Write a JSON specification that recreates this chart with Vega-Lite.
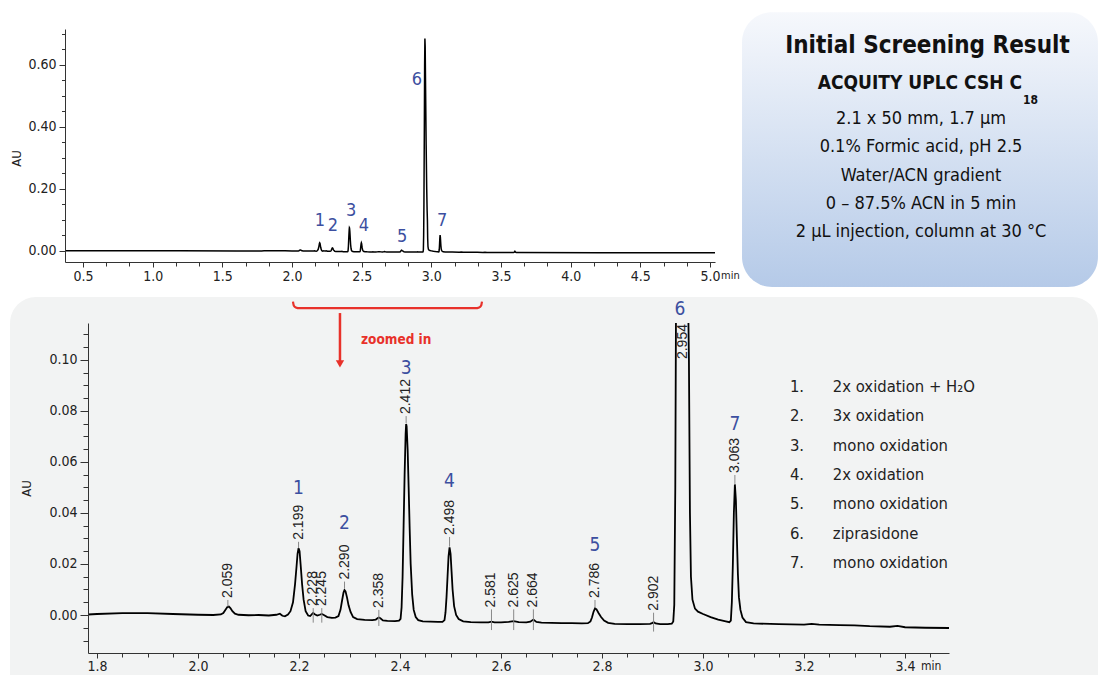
{
  "$schema": "https://vega.github.io/schema/vega-lite/v6.json",
  "background": "white",
  "padding": {"left": 10, "top": 12, "right": 0, "bottom": 0},
  "bounds": "flush",
  "spacing": 61,
  "config": {
    "view": {"stroke": null},
    "axis": {"grid": false, "domainColor": "#333", "tickColor": "#333", "labelColor": "#222", "labelFont": "DejaVu Sans Condensed, DejaVu Sans, sans-serif", "labelFontSize": 14, "titleFont": "DejaVu Sans Condensed, DejaVu Sans, sans-serif", "titleFontWeight": "normal", "titleFontSize": 13, "titleColor": "#222", "zindex": 1}
  },
  "datasets": {
    "trace": [
      {"t":0.371,"au":0.0004},{"t":0.8,"au":0.0004},{"t":1.2,"au":0.0004},{"t":1.6,"au":0.0003},
      {"t":1.782,"au":0.0002},{"t":1.8,"au":0.0004},{"t":1.85,"au":0.0007},{"t":1.9,"au":0.0007},{"t":1.95,"au":0.0004},{"t":2.0,"au":0.0001},{"t":2.03,"au":0.0},{"t":2.045,"au":0.0002},{"t":2.05,"au":0.0008},{"t":2.054,"au":0.002},{"t":2.058,"au":0.0031},{"t":2.061,"au":0.0033},{"t":2.064,"au":0.0027},{"t":2.068,"au":0.0015},{"t":2.073,"au":0.0005},{"t":2.08,"au":0.0001},{"t":2.1,"au":-0.0001},{"t":2.12,"au":0.0},{"t":2.14,"au":-0.0002},{"t":2.155,"au":0.0001},{"t":2.162,"au":0.0005},{"t":2.167,"au":-0.0003},{"t":2.172,"au":-0.0005},{"t":2.178,"au":0.0002},{"t":2.183,"au":0.0015},{"t":2.188,"au":0.005},{"t":2.192,"au":0.012},{"t":2.195,"au":0.019},{"t":2.197,"au":0.024},{"t":2.199,"au":0.0262},{"t":2.201,"au":0.025},{"t":2.203,"au":0.02},{"t":2.206,"au":0.012},{"t":2.209,"au":0.006},{"t":2.213,"au":0.0015},{"t":2.218,"au":-0.0002},{"t":2.222,"au":-0.0004},{"t":2.226,"au":0.0004},{"t":2.228,"au":0.0008},{"t":2.231,"au":0.0003},{"t":2.236,"au":-0.0002},{"t":2.241,"au":0.0001},{"t":2.245,"au":0.0004},{"t":2.249,"au":0.0},{"t":2.256,"au":-0.0008},{"t":2.265,"au":-0.0011},{"t":2.272,"au":-0.001},{"t":2.278,"au":-0.0004},{"t":2.282,"au":0.002},{"t":2.285,"au":0.0055},{"t":2.288,"au":0.0088},{"t":2.29,"au":0.0098},{"t":2.292,"au":0.0093},{"t":2.295,"au":0.0068},{"t":2.298,"au":0.0038},{"t":2.302,"au":0.0012},{"t":2.307,"au":-0.0008},{"t":2.315,"au":-0.0016},{"t":2.33,"au":-0.0019},{"t":2.345,"au":-0.002},{"t":2.352,"au":-0.0018},{"t":2.356,"au":-0.0012},{"t":2.358,"au":-0.001},{"t":2.361,"au":-0.0013},{"t":2.366,"au":-0.0021},{"t":2.375,"au":-0.0023},{"t":2.39,"au":-0.0024},{"t":2.398,"au":-0.0022},{"t":2.401,"au":-0.0015},{"t":2.403,"au":0.003},{"t":2.405,"au":0.015},{"t":2.407,"au":0.035},{"t":2.409,"au":0.055},{"t":2.411,"au":0.071},{"t":2.412,"au":0.0749},{"t":2.413,"au":0.074},{"t":2.415,"au":0.065},{"t":2.417,"au":0.05},{"t":2.419,"au":0.034},{"t":2.421,"au":0.02},{"t":2.424,"au":0.008},{"t":2.427,"au":0.002},{"t":2.431,"au":-0.0008},{"t":2.436,"au":-0.002},{"t":2.445,"au":-0.0025},{"t":2.46,"au":-0.0026},{"t":2.475,"au":-0.0027},{"t":2.484,"au":-0.0027},{"t":2.488,"au":-0.002},{"t":2.49,"au":0.001},{"t":2.492,"au":0.007},{"t":2.494,"au":0.015},{"t":2.496,"au":0.023},{"t":2.498,"au":0.0265},{"t":2.5,"au":0.024},{"t":2.502,"au":0.017},{"t":2.504,"au":0.01},{"t":2.507,"au":0.0035},{"t":2.511,"au":0.0},{"t":2.516,"au":-0.0016},{"t":2.525,"au":-0.0025},{"t":2.54,"au":-0.0028},{"t":2.56,"au":-0.0029},{"t":2.575,"au":-0.0029},{"t":2.581,"au":-0.0026},{"t":2.587,"au":-0.0029},{"t":2.6,"au":-0.0029},{"t":2.615,"au":-0.0027},{"t":2.625,"au":-0.0024},{"t":2.635,"au":-0.0028},{"t":2.65,"au":-0.0029},{"t":2.658,"au":-0.0026},{"t":2.664,"au":-0.0018},{"t":2.67,"au":-0.0027},{"t":2.68,"au":-0.003},{"t":2.7,"au":-0.0031},{"t":2.72,"au":-0.0032},{"t":2.74,"au":-0.0032},{"t":2.76,"au":-0.0033},{"t":2.772,"au":-0.0032},{"t":2.777,"au":-0.0025},{"t":2.78,"au":-0.001},{"t":2.783,"au":0.0012},{"t":2.786,"au":0.0026},{"t":2.789,"au":0.0022},{"t":2.793,"au":0.0008},{"t":2.798,"au":-0.0008},{"t":2.804,"au":-0.0022},{"t":2.812,"au":-0.0031},{"t":2.825,"au":-0.0035},{"t":2.85,"au":-0.0036},{"t":2.875,"au":-0.0036},{"t":2.895,"au":-0.0035},{"t":2.899,"au":-0.0032},{"t":2.902,"au":-0.0028},{"t":2.906,"au":-0.0033},{"t":2.915,"au":-0.0036},{"t":2.93,"au":-0.0036},{"t":2.938,"au":-0.0034},{"t":2.941,"au":-0.0025},{"t":2.943,"au":0.004},{"t":2.945,"au":0.05},{"t":2.947,"au":0.15},{"t":2.95,"au":0.4},{"t":2.952,"au":0.6},{"t":2.954,"au":0.685},{"t":2.956,"au":0.66},{"t":2.959,"au":0.52},{"t":2.963,"au":0.34},{"t":2.967,"au":0.2},{"t":2.97,"au":0.13},{"t":2.972,"au":0.1},{"t":2.974,"au":0.04},{"t":2.976,"au":0.015},{"t":2.979,"au":0.006},{"t":2.984,"au":0.0025},{"t":2.99,"au":0.0013},{"t":3.0,"au":0.0004},{"t":3.015,"au":-0.0008},{"t":3.03,"au":-0.0018},{"t":3.045,"au":-0.0025},{"t":3.052,"au":-0.0028},{"t":3.055,"au":-0.0022},{"t":3.057,"au":0.005},{"t":3.059,"au":0.02},{"t":3.061,"au":0.04},{"t":3.063,"au":0.0512},{"t":3.065,"au":0.045},{"t":3.067,"au":0.03},{"t":3.069,"au":0.016},{"t":3.071,"au":0.007},{"t":3.074,"au":0.002},{"t":3.078,"au":-0.001},{"t":3.085,"au":-0.0028},{"t":3.1,"au":-0.0033},{"t":3.15,"au":-0.0036},{"t":3.2,"au":-0.0038},{"t":3.215,"au":-0.0035},{"t":3.23,"au":-0.0038},{"t":3.27,"au":-0.004},{"t":3.3,"au":-0.0041},{"t":3.33,"au":-0.0044},{"t":3.37,"au":-0.0046},{"t":3.385,"au":-0.0043},{"t":3.4,"au":-0.0048},{"t":3.44,"au":-0.005},{"t":3.487,"au":-0.0051},
      {"t":3.52,"au":-0.0051},{"t":3.59,"au":-0.0051},{"t":3.596,"au":-0.004},{"t":3.6,"au":-0.0012},{"t":3.604,"au":-0.0035},{"t":3.61,"au":-0.0052},{"t":4.2,"au":-0.0054},{"t":5.036,"au":-0.0055}
    ],
    "topnum": [
      {"n":"1","t":2.201,"au":0.097},{"n":"2","t":2.294,"au":0.080},{"n":"3","t":2.424,"au":0.130},{"n":"4","t":2.517,"au":0.080},{"n":"5","t":2.790,"au":0.045},{"n":"6","t":2.897,"au":0.553},{"n":"7","t":3.077,"au":0.097}
    ],
    "botnum": [
      {"n":"1","t":2.199,"au":0.0498},{"n":"2","t":2.290,"au":0.0361},{"n":"3","t":2.412,"au":0.0969},{"n":"4","t":2.498,"au":0.0525},{"n":"5","t":2.786,"au":0.0275},{"n":"6","t":2.954,"au":0.1200},{"n":"7","t":3.063,"au":0.0749}
    ],
    "plabels": [
      {"rt":"2.059","t":2.059,"y1":0.0033,"y2":0.0059},
      {"rt":"2.199","t":2.199,"y1":0.0262,"y2":0.0287},
      {"rt":"2.228","t":2.228,"y1":-0.003,"y2":0.0027},
      {"rt":"2.245","t":2.245,"y1":-0.003,"y2":0.0027},
      {"rt":"2.290","t":2.29,"y1":0.0105,"y2":0.0131},
      {"rt":"2.358","t":2.358,"y1":-0.0043,"y2":0.002},
      {"rt":"2.412","t":2.412,"y1":0.0753,"y2":0.078},
      {"rt":"2.498","t":2.498,"y1":0.0268,"y2":0.0306},
      {"rt":"2.581","t":2.581,"y1":-0.0059,"y2":0.0022},
      {"rt":"2.625","t":2.625,"y1":-0.0059,"y2":0.0022},
      {"rt":"2.664","t":2.664,"y1":-0.0059,"y2":0.0022},
      {"rt":"2.786","t":2.786,"y1":0.0027,"y2":0.0059},
      {"rt":"2.902","t":2.902,"y1":-0.0065,"y2":0.0009},
      {"rt":"3.063","t":3.063,"y1":0.0514,"y2":0.0549}
    ],
    "legend": [
      {"num":"1.","label":"2x oxidation + H₂O","au":0.0894},
      {"num":"2.","label":"3x oxidation","au":0.0780},
      {"num":"3.","label":"mono oxidation","au":0.0663},
      {"num":"4.","label":"2x oxidation","au":0.0549},
      {"num":"5.","label":"mono oxidation","au":0.0435},
      {"num":"6.","label":"ziprasidone","au":0.0318},
      {"num":"7.","label":"mono oxidation","au":0.0204}
    ],
    "bracket": [
      {"t":2.1879,"au":0.1229},{"t":2.1895,"au":0.1214},{"t":2.1935,"au":0.1206},{"t":2.201,"au":0.1203},{"t":2.5491,"au":0.1203},{"t":2.5566,"au":0.1206},{"t":2.5606,"au":0.1214},{"t":2.5622,"au":0.1229}
    ],
    "boxlines": [
      {"txt":"2.1  x  50 mm, 1.7 µm","au":0.4258},
      {"txt":"0.1% Formic acid, pH 2.5","au":0.3339},
      {"txt":"Water/ACN gradient","au":0.2419},
      {"txt":"0 – 87.5% ACN in 5 min","au":0.1516},
      {"txt":"2 µL injection, column at 30 °C","au":0.0597}
    ]
  },
  "vconcat": [
    {
      "width": 650,
      "height": 233,
      "resolve": {"axis": {"x": "independent", "y": "independent"}},
      "layer": [
        {
          "data": {"values": [{}]},
          "mark": {"type": "rect", "cornerRadius": 30, "fill": {"gradient": "linear", "x1": 0, "y1": 0, "x2": 0, "y2": 1, "stops": [{"offset": 0, "color": "#f6f8fc"}, {"offset": 1, "color": "#b5cae8"}]}},
          "encoding": {
            "x": {"datum": 5.2299, "type": "quantitative", "scale": {"domain": [0.371, 5.036], "nice": false, "zero": false}, "axis": null},
            "x2": {"datum": 7.7845},
            "y": {"datum": 0.770, "type": "quantitative", "scale": {"domain": [-0.0355, 0.716], "nice": false, "zero": false}, "axis": null},
            "y2": {"datum": -0.1161}
          }
        },
        {
          "data": {"name": "trace"},
          "mark": {"type": "line", "color": "#000", "strokeWidth": 1.5},
          "encoding": {
            "x": {"field": "t", "type": "quantitative", "scale": {"domain": [0.371, 5.036], "nice": false, "zero": false},
                  "axis": {"orient": "bottom", "values": [0.5,1,1.5,2,2.5,3,3.5,4,4.5,5], "format": ".1f", "tickSize": 5, "labelPadding": 2, "title": null, "zindex": 1}},
            "y": {"field": "au", "type": "quantitative", "scale": {"domain": [-0.0355, 0.716], "nice": false, "zero": false},
                  "axis": {"orient": "left", "values": [0,0.2,0.4,0.6], "format": ".2f", "tickSize": 6, "labelPadding": 3, "title": "AU", "titlePadding": 4, "titleY": 129, "zindex": 1}}
          }
        },
        {
          "data": {"name": "topnum"},
          "mark": {"type": "text", "font": "DejaVu Sans Condensed, DejaVu Sans, sans-serif", "fontSize": 18, "color": "#3c4fa0", "align": "center", "baseline": "middle"},
          "encoding": {
            "x": {"field": "t", "type": "quantitative", "scale": {"domain": [0.371, 5.036], "nice": false, "zero": false},
                  "axis": {"orient": "bottom", "values": [0.6667,0.8333,1.1667,1.3333,1.6667,1.8333,2.1667,2.3333,2.6667,2.8333,3.1667,3.3333,3.6667,3.8333,4.1667,4.3333,4.6667,4.8333], "labels": false, "domain": false, "tickSize": 4, "title": null, "zindex": 1}},
            "y": {"field": "au", "type": "quantitative", "scale": {"domain": [-0.0355, 0.716], "nice": false, "zero": false},
                  "axis": {"orient": "left", "values": [0.05,0.1,0.15,0.25,0.3,0.35,0.45,0.5,0.55,0.65,0.7], "labels": false, "domain": false, "tickSize": 3.5, "title": null, "zindex": 1}},
            "text": {"field": "n"}
          }
        },
        {
          "data": {"values": [{"txt": "Initial Screening Result", "au": 0.6613}]},
          "mark": {"type": "text", "font": "DejaVu Sans Condensed, DejaVu Sans, sans-serif", "fontWeight": "bold", "fontSize": 24, "color": "#111", "align": "center", "baseline": "middle"},
          "encoding": {
            "x": {"datum": 6.561, "type": "quantitative", "scale": {"domain": [0.371, 5.036], "nice": false, "zero": false}, "axis": null},
            "y": {"field": "au", "type": "quantitative", "scale": {"domain": [-0.0355, 0.716], "nice": false, "zero": false}, "axis": null},
            "text": {"field": "txt"}
          }
        },
        {
          "data": {"values": [{"txt": "ACQUITY UPLC CSH C", "au": 0.5403}]},
          "mark": {"type": "text", "font": "DejaVu Sans Condensed, DejaVu Sans, sans-serif", "fontWeight": "bold", "fontSize": 19, "color": "#111", "align": "right", "baseline": "middle"},
          "encoding": {
            "x": {"datum": 7.2396, "type": "quantitative", "scale": {"domain": [0.371, 5.036], "nice": false, "zero": false}, "axis": null},
            "y": {"field": "au", "type": "quantitative", "scale": {"domain": [-0.0355, 0.716], "nice": false, "zero": false}, "axis": null},
            "text": {"field": "txt"}
          }
        },
        {
          "data": {"values": [{"txt": "18", "au": 0.4885}]},
          "mark": {"type": "text", "font": "DejaVu Sans Condensed, DejaVu Sans, sans-serif", "fontWeight": "bold", "fontSize": 12, "color": "#111", "align": "left", "baseline": "middle"},
          "encoding": {
            "x": {"datum": 7.2468, "type": "quantitative", "scale": {"domain": [0.371, 5.036], "nice": false, "zero": false}, "axis": null},
            "y": {"field": "au", "type": "quantitative", "scale": {"domain": [-0.0355, 0.716], "nice": false, "zero": false}, "axis": null},
            "text": {"field": "txt"}
          }
        },
        {
          "data": {"name": "boxlines"},
          "mark": {"type": "text", "font": "DejaVu Sans Condensed, DejaVu Sans, sans-serif", "fontSize": 18, "color": "#111", "align": "center", "baseline": "middle"},
          "encoding": {
            "x": {"datum": 6.5146, "type": "quantitative", "scale": {"domain": [0.371, 5.036], "nice": false, "zero": false}, "axis": null},
            "y": {"field": "au", "type": "quantitative", "scale": {"domain": [-0.0355, 0.716], "nice": false, "zero": false}, "axis": null},
            "text": {"field": "txt"}
          }
        },
        {
          "data": {"values": [{"txt": "min"}]},
          "mark": {"type": "text", "font": "DejaVu Sans Condensed, DejaVu Sans, sans-serif", "fontSize": 11, "color": "#222", "align": "left", "baseline": "middle", "dy": 14},
          "encoding": {
            "x": {"datum": 5.079, "type": "quantitative", "scale": {"domain": [0.371, 5.036], "nice": false, "zero": false}, "axis": null},
            "y": {"datum": -0.0355, "type": "quantitative", "scale": {"domain": [-0.0355, 0.716], "nice": false, "zero": false}, "axis": null},
            "text": {"field": "txt"}
          }
        }
      ]
    },
    {
      "width": 884,
      "height": 330,
      "resolve": {"axis": {"x": "independent", "y": "independent"}},
      "layer": [
        {
          "data": {"values": [{}]},
          "mark": {"type": "rect", "color": "#f2f3f3", "cornerRadiusTopLeft": 26, "cornerRadiusTopRight": 26},
          "encoding": {
            "x": {"datum": 1.6277, "type": "quantitative", "scale": {"domain": [1.7365, 3.487], "nice": false, "zero": false}, "axis": null},
            "x2": {"datum": 3.782},
            "y": {"datum": 0.1247, "type": "quantitative", "scale": {"domain": [-0.0149, 0.1145], "nice": false, "zero": false}, "axis": null},
            "y2": {"datum": -0.0235}
          }
        },
        {
          "data": {"name": "trace"},
          "transform": [{"filter": "datum.t >= 1.782 && datum.t <= 3.487"}],
          "mark": {"type": "line", "color": "#000", "strokeWidth": 1.8, "clip": true},
          "encoding": {
            "x": {"field": "t", "type": "quantitative", "scale": {"domain": [1.7365, 3.487], "nice": false, "zero": false},
                  "axis": {"orient": "bottom", "values": [1.8,2,2.2,2.4,2.6,2.8,3,3.2,3.4], "format": ".1f", "tickSize": 5, "labelPadding": 1, "title": null, "domainDash": [0, 23, 2000], "zindex": 1}},
            "y": {"field": "au", "type": "quantitative", "scale": {"domain": [-0.0149, 0.1145], "nice": false, "zero": false},
                  "axis": {"orient": "left", "offset": -23, "values": [0,0.02,0.04,0.06,0.08,0.1], "format": ".2f", "tickSize": 8, "labelPadding": 3, "title": "AU", "titlePadding": 15, "zindex": 1}}
          }
        },
        {
          "data": {"name": "plabels"},
          "mark": {"type": "rule", "color": "#888", "strokeWidth": 1},
          "encoding": {
            "x": {"field": "t", "type": "quantitative", "scale": {"domain": [1.7365, 3.487], "nice": false, "zero": false},
                  "axis": {"orient": "bottom", "values": [1.85,1.9,1.95,2.05,2.1,2.15,2.25,2.3,2.35,2.45,2.5,2.55,2.65,2.7,2.75,2.85,2.9,2.95,3.05,3.1,3.15,3.25,3.3,3.35,3.45], "labels": false, "domain": false, "tickSize": 4, "title": null, "zindex": 1}},
            "y": {"field": "y1", "type": "quantitative", "scale": {"domain": [-0.0149, 0.1145], "nice": false, "zero": false},
                  "axis": {"orient": "left", "offset": -23, "values": [-0.01,-0.005,0.005,0.01,0.015,0.025,0.03,0.035,0.045,0.05,0.055,0.065,0.07,0.075,0.085,0.09,0.095,0.105,0.11], "labels": false, "domain": false, "tickSize": 5, "title": null, "zindex": 1}},
            "y2": {"field": "y2"}
          }
        },
        {
          "data": {"name": "plabels"},
          "mark": {"type": "text", "font": "Liberation Sans, Arial, sans-serif", "fontSize": 14, "color": "#222", "angle": 270, "align": "left", "baseline": "middle", "dx": 2},
          "encoding": {
            "x": {"field": "t", "type": "quantitative", "scale": {"domain": [1.7365, 3.487], "nice": false, "zero": false}, "axis": null},
            "y": {"field": "y2", "type": "quantitative", "scale": {"domain": [-0.0149, 0.1145], "nice": false, "zero": false}, "axis": null},
            "text": {"field": "rt"}
          }
        },
        {
          "data": {"values": [{"rt": "2.954", "t": 2.9595, "au": 0.1141}]},
          "mark": {"type": "text", "font": "Liberation Sans, Arial, sans-serif", "fontSize": 14, "color": "#222", "angle": 270, "align": "right", "baseline": "middle"},
          "encoding": {
            "x": {"field": "t", "type": "quantitative", "scale": {"domain": [1.7365, 3.487], "nice": false, "zero": false}, "axis": null},
            "y": {"field": "au", "type": "quantitative", "scale": {"domain": [-0.0149, 0.1145], "nice": false, "zero": false}, "axis": null},
            "text": {"field": "rt"}
          }
        },
        {
          "data": {"name": "botnum"},
          "mark": {"type": "text", "font": "DejaVu Sans Condensed, DejaVu Sans, sans-serif", "fontSize": 19, "color": "#3c4fa0", "align": "center", "baseline": "middle"},
          "encoding": {
            "x": {"field": "t", "type": "quantitative", "scale": {"domain": [1.7365, 3.487], "nice": false, "zero": false}, "axis": null},
            "y": {"field": "au", "type": "quantitative", "scale": {"domain": [-0.0149, 0.1145], "nice": false, "zero": false}, "axis": null},
            "text": {"field": "n"}
          }
        },
        {
          "data": {"name": "legend"},
          "mark": {"type": "text", "font": "DejaVu Sans Condensed, DejaVu Sans, sans-serif", "fontSize": 16.5, "color": "#222", "align": "left", "baseline": "middle"},
          "encoding": {
            "x": {"datum": 3.172, "type": "quantitative", "scale": {"domain": [1.7365, 3.487], "nice": false, "zero": false}, "axis": null},
            "y": {"field": "au", "type": "quantitative", "scale": {"domain": [-0.0149, 0.1145], "nice": false, "zero": false}, "axis": null},
            "text": {"field": "num"}
          }
        },
        {
          "data": {"name": "legend"},
          "mark": {"type": "text", "font": "DejaVu Sans Condensed, DejaVu Sans, sans-serif", "fontSize": 16.5, "color": "#222", "align": "left", "baseline": "middle"},
          "encoding": {
            "x": {"datum": 3.257, "type": "quantitative", "scale": {"domain": [1.7365, 3.487], "nice": false, "zero": false}, "axis": null},
            "y": {"field": "au", "type": "quantitative", "scale": {"domain": [-0.0149, 0.1145], "nice": false, "zero": false}, "axis": null},
            "text": {"field": "label"}
          }
        },
        {
          "data": {"name": "bracket"},
          "mark": {"type": "line", "color": "#e8312a", "strokeWidth": 2.2, "interpolate": "monotone"},
          "encoding": {
            "x": {"field": "t", "type": "quantitative", "scale": {"domain": [1.7365, 3.487], "nice": false, "zero": false}, "axis": null},
            "y": {"field": "au", "type": "quantitative", "scale": {"domain": [-0.0149, 0.1145], "nice": false, "zero": false}, "axis": null}
          }
        },
        {
          "data": {"values": [{"a": 0.1184, "b": 0.0992}]},
          "mark": {"type": "rule", "color": "#e8312a", "strokeWidth": 2.5},
          "encoding": {
            "x": {"datum": 2.281, "type": "quantitative", "scale": {"domain": [1.7365, 3.487], "nice": false, "zero": false}, "axis": null},
            "y": {"field": "a", "type": "quantitative", "scale": {"domain": [-0.0149, 0.1145], "nice": false, "zero": false}, "axis": null},
            "y2": {"field": "b"}
          }
        },
        {
          "data": {"values": [{"a": 0.0985}]},
          "mark": {"type": "point", "shape": "triangle-down", "filled": true, "color": "#e8312a", "size": 70, "opacity": 1},
          "encoding": {
            "x": {"datum": 2.281, "type": "quantitative", "scale": {"domain": [1.7365, 3.487], "nice": false, "zero": false}, "axis": null},
            "y": {"field": "a", "type": "quantitative", "scale": {"domain": [-0.0149, 0.1145], "nice": false, "zero": false}, "axis": null}
          }
        },
        {
          "data": {"values": [{"txt": "zoomed in", "au": 0.1078}]},
          "mark": {"type": "text", "font": "DejaVu Sans Condensed, DejaVu Sans, sans-serif", "fontWeight": "bold", "fontSize": 13.5, "color": "#e8312a", "align": "left", "baseline": "middle"},
          "encoding": {
            "x": {"datum": 2.3226, "type": "quantitative", "scale": {"domain": [1.7365, 3.487], "nice": false, "zero": false}, "axis": null},
            "y": {"field": "au", "type": "quantitative", "scale": {"domain": [-0.0149, 0.1145], "nice": false, "zero": false}, "axis": null},
            "text": {"field": "txt"}
          }
        },
        {
          "data": {"values": [{"txt": "min"}]},
          "mark": {"type": "text", "font": "DejaVu Sans Condensed, DejaVu Sans, sans-serif", "fontSize": 12, "color": "#222", "align": "left", "baseline": "middle", "dy": 13},
          "encoding": {
            "x": {"datum": 3.4315, "type": "quantitative", "scale": {"domain": [1.7365, 3.487], "nice": false, "zero": false}, "axis": null},
            "y": {"datum": -0.0149, "type": "quantitative", "scale": {"domain": [-0.0149, 0.1145], "nice": false, "zero": false}, "axis": null},
            "text": {"field": "txt"}
          }
        }
      ]
    }
  ]
}
